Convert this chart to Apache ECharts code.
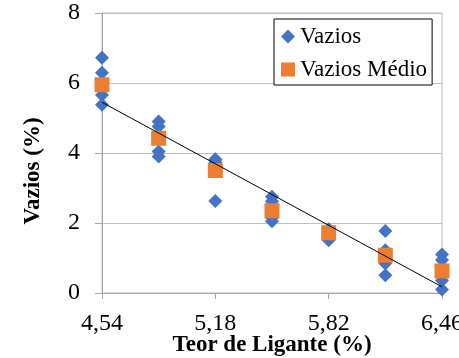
<!DOCTYPE html>
<html>
<head>
<meta charset="utf-8">
<script src="https://cdn.jsdelivr.net/npm/echarts@6/dist/echarts.min.js"></script>
<style>
  html, body { margin: 0; padding: 0; background: #fff; }
  #chart { width: 459px; height: 358px; }
</style>
</head>
<body>
<div id="chart"></div>
<script>
// Binder content levels (%)
const teorLigante = [4.54, 4.86, 5.18, 5.50, 5.82, 6.14, 6.46];
// Individual air-void readings (%) for each binder content
const vaziosAmostras = [
  [6.72, 6.29, 5.66, 5.38],
  [4.90, 4.76, 4.04, 3.90],
  [3.82, 3.72, 3.80, 2.63],
  [2.75, 2.62, 2.15, 2.05],
  [1.82, 1.78, 1.60, 1.51],
  [1.77, 1.22, 0.84, 0.51],
  [1.10, 0.94, 0.36, 0.10]
];
// Mean air voids (%) for each binder content
const vaziosMedio = [5.95, 4.42, 3.50, 2.35, 1.72, 1.08, 0.63];
// Axis ticks
const xTicks = [4.54, 5.18, 5.82, 6.46];
const yTicks = [0, 2, 4, 6, 8];

// x is plotted in hundredths above the first tick so ticks fall on multiples of the step
const x0 = xTicks[0];
const xStep = Math.round((xTicks[1] - xTicks[0]) * 100);
const toAxis = v => Math.round((v - x0) * 100);
const fromAxis = v => ((Math.round(x0 * 100) + v) / 100).toFixed(2).replace('.', ',');

const pontos = [];
teorLigante.forEach((t, i) => vaziosAmostras[i].forEach(v => pontos.push([toAxis(t), v])));
const medios = teorLigante.map((t, i) => [toAxis(t), vaziosMedio[i]]);

// Least-squares linear trend over all samples
const n = pontos.length;
const mx = pontos.reduce((s, p) => s + p[0], 0) / n;
const my = pontos.reduce((s, p) => s + p[1], 0) / n;
let sxy = 0, sxx = 0;
pontos.forEach(p => { sxy += (p[0] - mx) * (p[1] - my); sxx += (p[0] - mx) * (p[0] - mx); });
const b = sxy / sxx, a = my - b * mx;
const xa = toAxis(teorLigante[0]), xb = toAxis(teorLigante[teorLigante.length - 1]);
const tendencia = [[xa, a + b * xa], [xb, a + b * xb]];

const serif = 'Liberation Serif';
const chart = echarts.init(document.getElementById('chart'), null, { renderer: 'canvas' });
chart.setOption({
  animation: false,
  backgroundColor: '#fff',
  textStyle: { fontFamily: serif },
  grid: {
    left: 102, right: 17, top: 13, bottom: 65,
    outerBoundsMode: 'none', containLabel: false,
    show: true, borderColor: '#bfbfbf', borderWidth: 1
  },
  legend: {
    orient: 'vertical',
    left: 274, top: 19,
    padding: [6, 5, 4, 7],
    itemGap: 10,
    itemWidth: 14, itemHeight: 14,
    borderColor: '#000', borderWidth: 1, backgroundColor: '#fff',
    data: ['Vazios', 'Vazios Médio'],
    textStyle: { fontFamily: serif, fontSize: 23, color: '#000', lineHeight: 23 }
  },
  xAxis: {
    type: 'value',
    min: 0, max: toAxis(xTicks[xTicks.length - 1]), interval: xStep,
    name: 'Teor de Ligante (%)',
    nameLocation: 'middle', nameGap: 41, nameMoveOverlap: false,
    nameTextStyle: { fontFamily: serif, fontSize: 23, fontWeight: 'bold', color: '#000' },
    axisLine: { lineStyle: { color: '#a6a6a6' } },
    axisTick: { show: true, length: 6, lineStyle: { color: '#a6a6a6' } },
    axisLabel: { formatter: fromAxis, fontFamily: serif, fontSize: 24, color: '#000', margin: 19, showMaxLabel: true, showMinLabel: true },
    splitLine: { show: false }
  },
  yAxis: {
    type: 'value',
    min: yTicks[0], max: yTicks[yTicks.length - 1], interval: yTicks[1] - yTicks[0],
    name: 'Vazios (%)',
    nameLocation: 'middle', nameGap: 57, nameMoveOverlap: false,
    nameTextStyle: { fontFamily: serif, fontSize: 23, fontWeight: 'bold', color: '#000', padding: [0, 36, 0, 0] },
    axisLine: { show: true, lineStyle: { color: '#a6a6a6' } },
    axisTick: { show: true, length: 7, lineStyle: { color: '#a6a6a6' } },
    axisLabel: { fontFamily: serif, fontSize: 24, color: '#000', margin: 22 },
    splitLine: { lineStyle: { color: '#bfbfbf' } }
  },
  series: [
    {
      name: 'Vazios', type: 'scatter', symbol: 'diamond', symbolSize: [14, 14],
      itemStyle: { color: '#4472c4', opacity: 1 }, data: pontos, clip: false
    },
    {
      name: 'Vazios Médio', type: 'scatter', symbol: 'rect', symbolSize: 15,
      itemStyle: { color: '#ed7d31', opacity: 1 }, data: medios, clip: false
    },
    {
      name: 'Tendência', type: 'line', symbol: 'none', silent: true,
      lineStyle: { color: '#000', width: 1 }, data: tendencia
    }
  ]
});
</script>
</body>
</html>
